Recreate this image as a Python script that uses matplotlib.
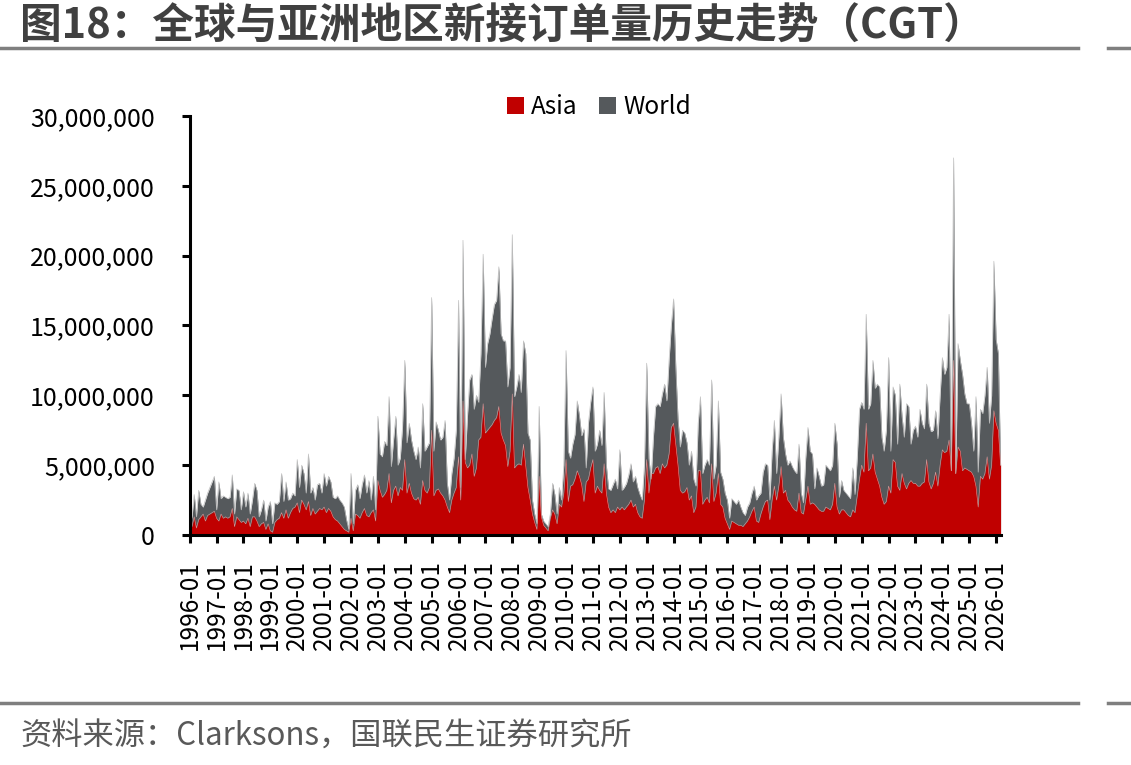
import matplotlib
matplotlib.use("Agg")
import matplotlib.pyplot as plt
import matplotlib.ticker as mticker
from matplotlib.patches import Patch
from matplotlib.lines import Line2D
import numpy as np
import pandas as pd

plt.rcParams['font.family'] = ['Noto Sans CJK SC', 'DejaVu Sans']

# Monthly new orders (million CGT), 1996-01 .. 2026-03
world_m = [
    2.4, 1.2, 2.9, 1.3, 3.2, 2.2, 2.0, 2.5, 3.0, 3.4, 3.8, 4.2,      # 1996
    1.8, 3.8, 2.6, 2.8, 2.7, 2.6, 2.7, 4.3, 1.5, 3.3, 3.2, 1.8,      # 1997
    3.1, 2.0, 3.0, 1.5, 2.5, 3.7, 3.2, 1.3, 1.8, 2.5, 1.0, 2.0,      # 1998
    2.4, 0.8, 2.3, 2.2, 2.4, 4.4, 2.4, 3.8, 2.5, 2.6, 3.0, 2.8,      # 1999
    5.4, 3.4, 5.0, 4.4, 3.0, 5.8, 3.0, 3.4, 2.5, 3.6, 3.7, 3.0,      # 2000
    4.4, 3.5, 4.2, 3.8, 2.7, 2.6, 2.8, 2.5, 2.3, 2.0, 1.1, 0.4,      # 2001
    4.4, 0.8, 3.2, 3.6, 2.6, 3.6, 4.3, 3.0, 3.9, 2.5, 4.2, 1.8,      # 2002
    8.5, 5.8, 5.6, 6.7, 6.4, 9.9, 4.9, 6.8, 8.5, 5.0, 5.5, 7.7,      # 2003
    12.5, 6.6, 8.0, 6.8, 6.0, 5.4, 6.3, 4.8, 9.4, 6.0, 6.3, 6.6,     # 2004
    17.0, 6.0, 8.1, 7.5, 6.8, 7.0, 8.2, 3.7, 2.5, 4.4, 5.5, 7.5,     # 2005
    16.8, 3.4, 21.1, 5.4, 8.5, 11.1, 11.5, 9.0, 10.0, 9.5, 13.0, 20.1,  # 2006
    12.0, 13.7, 14.4, 15.5, 16.5, 16.8, 19.2, 14.4, 13.9, 13.9, 10.6, 12.0,  # 2007
    21.5, 9.9, 10.6, 11.5, 10.2, 13.9, 13.0, 7.3, 6.8, 2.5, 1.5, 0.8,  # 2008
    9.2, 1.5, 1.0, 0.8, 0.6, 1.5, 3.7, 2.9, 1.5, 3.4, 2.5, 5.0,      # 2009
    13.2, 6.0, 5.5, 6.5, 7.2, 9.6, 8.5, 7.1, 7.6, 4.8, 8.0, 9.5,     # 2010
    10.6, 6.0, 6.5, 7.5, 6.4, 10.2, 5.0, 3.3, 3.2, 3.6, 4.0, 3.3,    # 2011
    6.1, 3.2, 3.4, 3.7, 4.3, 5.1, 3.8, 4.2, 3.4, 2.9, 2.5, 5.0,      # 2012
    12.3, 5.5, 4.0, 7.0, 9.2, 9.4, 9.2, 10.1, 10.8, 9.6, 12.5, 15.0,  # 2013
    16.9, 12.0, 8.3, 6.3, 7.5, 7.3, 6.6, 5.0, 6.0, 4.0, 3.5, 8.0,    # 2014
    9.9, 4.4, 5.0, 5.4, 5.0, 11.1, 4.0, 5.0, 9.6, 4.5, 4.0, 3.0,     # 2015
    2.5, 1.2, 2.6, 2.4, 2.2, 2.5, 2.0, 1.6, 1.4, 2.0, 2.3, 3.0,      # 2016
    3.5, 2.5, 2.8, 3.0, 4.5, 5.1, 5.0, 2.5, 6.0, 8.2, 4.4, 7.0,      # 2017
    10.1, 7.0, 5.8, 5.0, 5.3, 4.9, 4.6, 4.4, 6.5, 3.0, 2.3, 5.5,     # 2018
    7.7, 6.0, 5.8, 3.3, 4.8, 4.2, 3.5, 3.6, 5.0, 4.8, 4.6, 5.0,      # 2019
    8.0, 6.5, 2.7, 3.9, 3.2, 3.0, 2.8, 2.6, 4.8, 2.9, 5.5, 9.0,      # 2020
    9.5, 9.0, 15.8, 9.0, 9.4, 12.5, 10.5, 10.8, 10.6, 7.0, 6.0, 7.5,  # 2021
    12.7, 6.0, 10.6, 10.0, 6.5, 10.8, 8.5, 7.0, 9.4, 9.2, 6.5, 7.5,  # 2022
    7.8, 7.0, 9.0, 8.0, 7.6, 10.8, 8.0, 7.4, 7.5, 8.9, 6.9, 10.0,    # 2023
    12.7, 11.5, 12.0, 15.8, 4.6, 27.0, 4.4, 13.7, 12.5, 11.5, 10.1, 9.4,  # 2024
    9.4, 8.0, 6.0, 9.9, 4.5, 9.0, 8.7, 10.0, 12.0, 8.0, 10.0, 19.6,  # 2025
    14.0, 13.0, 5.0,                                                 # 2026
]
asia_m = [
    0.8, 0.6, 1.3, 0.5, 1.1, 1.3, 1.5, 1.0, 1.4, 1.5, 1.6, 1.7,      # 1996
    1.2, 1.0, 1.5, 1.2, 1.3, 1.2, 1.3, 1.9, 0.6, 1.3, 1.1, 0.9,      # 1997
    1.0, 0.8, 1.2, 0.6, 1.3, 1.3, 1.0, 0.6, 0.8, 0.9, 0.4, 0.8,      # 1998
    0.3, 0.2, 0.9, 1.1, 1.2, 1.6, 1.2, 1.8, 1.2, 1.6, 1.9, 2.0,      # 1999
    2.3, 1.6, 2.5, 2.2, 1.8, 2.4, 1.4, 1.9, 1.5, 1.7, 1.9, 1.8,      # 2000
    2.0, 1.6, 1.9, 1.7, 1.3, 1.1, 1.0, 0.8, 0.6, 0.4, 0.3, 0.2,      # 2001
    1.2, 0.3, 1.5, 1.4, 1.2, 1.6, 1.9, 1.4, 1.3, 1.6, 1.8, 1.0,      # 2002
    3.9, 3.2, 2.7, 2.9, 3.2, 4.4, 2.3, 3.2, 3.5, 2.8, 3.4, 3.2,      # 2003
    5.4, 3.0, 3.7, 3.0, 2.6, 2.5, 2.7, 2.2, 3.9, 3.2, 3.0, 3.4,      # 2004
    7.5, 2.8, 3.2, 3.3, 3.0, 2.8, 2.5, 2.0, 1.6, 2.5, 3.0, 3.4,      # 2005
    5.6, 2.5, 9.6, 5.2, 4.8, 5.0, 5.8, 4.2, 4.8, 6.8, 7.0, 9.4,      # 2006
    7.3, 7.5, 7.7, 7.9, 8.2, 8.4, 9.2, 7.3, 6.8, 6.4, 4.9, 6.0,      # 2007
    10.1, 4.8, 5.0, 5.1, 5.0, 6.5, 5.0, 3.4, 2.5, 1.5, 0.9, 0.4,     # 2008
    4.2, 1.3, 0.7, 0.5, 0.3, 1.2, 1.8, 1.5, 0.8, 2.2, 2.0, 3.0,      # 2009
    5.4, 2.4, 3.5, 3.6, 4.0, 4.6, 4.2, 3.6, 2.4, 3.8, 4.0, 4.8,      # 2010
    5.4, 3.0, 3.5, 3.2, 3.0, 5.1, 3.0, 2.0, 1.6, 1.8, 1.6, 2.0,      # 2011
    1.8, 2.0, 1.8, 2.0, 2.2, 2.5, 2.0, 2.2, 1.6, 1.3, 1.2, 2.5,      # 2012
    5.4, 3.0, 4.4, 4.4, 4.8, 4.9, 4.4, 5.1, 4.8, 5.0, 5.8, 7.7,      # 2013
    8.0, 6.5, 5.0, 3.2, 3.0, 3.1, 3.4, 2.5, 2.8, 1.6, 2.0, 4.6,      # 2014
    4.6, 2.2, 2.5, 2.7, 2.3, 5.1, 2.4, 3.0, 4.4, 2.2, 2.0, 1.2,      # 2015
    0.8, 0.4, 1.0, 0.9, 0.8, 0.7, 0.7, 0.6, 0.8, 1.0, 1.3, 1.7,      # 2016
    2.0, 1.0, 0.9, 1.5, 2.0, 2.4, 2.5, 1.1, 2.5, 3.5, 2.5, 3.5,      # 2017
    4.9, 3.0, 3.2, 2.5, 2.3, 2.0, 1.8, 1.7, 3.0, 1.6, 1.5, 2.5,      # 2018
    3.5, 2.2, 2.3, 2.2, 2.0, 1.8, 1.7, 1.7, 2.0, 1.9, 1.8, 2.2,      # 2019
    3.7, 2.0, 1.5, 1.8, 1.8, 1.6, 1.4, 1.3, 1.8, 1.6, 2.8, 4.0,      # 2020
    5.0, 4.5, 8.0, 4.6, 4.8, 5.8, 4.5, 4.0, 3.5, 2.7, 2.2, 2.4,      # 2021
    3.5, 3.0, 5.4, 5.2, 3.5, 3.2, 4.4, 3.7, 3.3, 3.7, 3.9, 3.7,      # 2022
    3.7, 3.5, 3.5, 3.7, 3.8, 5.4, 3.8, 3.3, 3.7, 4.5, 3.5, 5.0,      # 2023
    6.1, 5.9, 6.0, 6.8, 4.6, 12.5, 4.4, 6.3, 6.0, 4.6, 4.8, 4.7,     # 2024
    4.6, 4.5, 4.2, 3.5, 2.0, 4.2, 4.0, 4.4, 5.6, 4.0, 5.0, 8.9,      # 2025
    8.0, 7.5, 5.0,                                                   # 2026
]
months = pd.date_range("1996-01-01", periods=len(world_m), freq="MS").strftime("%Y-%m").tolist()

world = np.array(world_m) * 1e6
asia = np.array(asia_m) * 1e6
x = np.arange(len(months))

W, H = 1131, 765
fig = plt.figure(figsize=(W / 100, H / 100), dpi=100)

ax = fig.add_axes([189.7 / W, (H - 535) / H, (2.24 * (len(months) - 1)) / W, 419 / H])
grey = '#55595C'
red = '#C00000'
ax.fill_between(x, 0, world, color=grey, linewidth=0)
ax.plot(x, world, color='#BFBFBF', linewidth=0.5)
ax.fill_between(x, 0, asia, color=red, linewidth=0)
ax.plot(x, asia, color='#D9A0A0', linewidth=0.4)

ax.set_xlim(0, len(months) - 1)
ax.set_ylim(0, 30e6)
ax.yaxis.set_major_locator(mticker.MultipleLocator(5e6))
ax.yaxis.set_major_formatter(mticker.FuncFormatter(lambda v, p: f"{int(v):,}"))
tick_pos = [i for i, m in enumerate(months) if m.endswith("-01")]
ax.set_xticks(tick_pos)
ax.set_xticklabels([months[i] for i in tick_pos], rotation=90)
for s in ['top', 'right']:
    ax.spines[s].set_visible(False)
for s in ['left', 'bottom']:
    ax.spines[s].set_linewidth(2.2)
    ax.spines[s].set_color('black')
ax.tick_params(axis='both', direction='out', length=6, width=2.2, colors='black')
ax.tick_params(axis='y', labelsize=18, pad=19)
ax.tick_params(axis='x', labelsize=17.5, pad=12)

handles = [Patch(facecolor=red, edgecolor='none'), Patch(facecolor=grey, edgecolor='none')]
fig.legend(handles, ['Asia', 'World'], loc='center', bbox_to_anchor=(599 / W, 1 - 107 / H),
           ncol=2, frameon=False, fontsize=17.5, handlelength=0.7, handleheight=0.7,
           handletextpad=0.3, columnspacing=0.9)

fig.text(20 / W, 1 - 27 / H, "图18：全球与亚洲地区新接订单量历史走势（CGT）", fontsize=30,
         fontweight='bold', color='#404040', va='center', ha='left')
fig.add_artist(Line2D([0, 1078 / W], [1 - 48 / H] * 2, color='#7F7F7F', linewidth=2.5))
fig.add_artist(Line2D([1108 / W, 1], [1 - 48 / H] * 2, color='#7F7F7F', linewidth=2.5))
fig.add_artist(Line2D([0, 1078 / W], [1 - 703 / H] * 2, color='#7F7F7F', linewidth=2.5))
fig.add_artist(Line2D([1108 / W, 1], [1 - 703 / H] * 2, color='#7F7F7F', linewidth=2.5))
fig.text(20 / W, 1 - 737 / H, "资料来源：Clarksons，国联民生证券研究所", fontsize=22.5,
         color='#595959', va='center', ha='left')

fig.savefig("out.png", dpi=100)
